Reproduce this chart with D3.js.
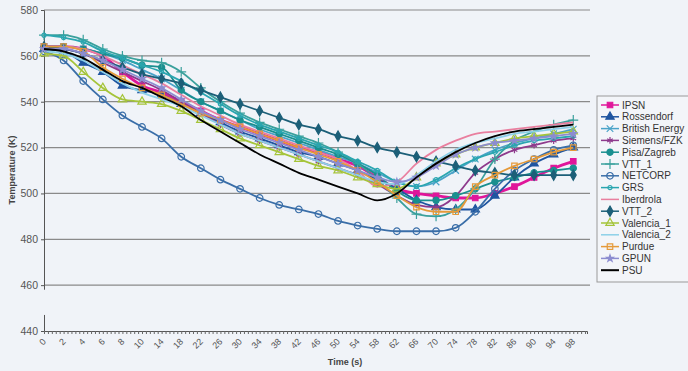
<!DOCTYPE html>
<html>
<head>
<meta charset="utf-8">
<script src="https://cdn.jsdelivr.net/npm/d3@7"></script>
<style>
  body { margin: 0; background: #f0f3f8; }
  svg { display: block; font-family: "Liberation Sans", Arial, sans-serif; }
</style>
</head>
<body>
<script>
// time labels on the category axis
var timeLabels = [0, 2, 4, 6, 8, 10, 14, 18, 22, 26, 30, 34, 38, 42, 46, 50, 54, 58,
  62, 66, 70, 74, 78, 82, 86, 90, 94, 98];
var yTicks = [440, 460, 480, 500, 520, 540, 560, 580];

var seriesNames = ['IPSN', 'Rossendorf', 'British Energy', 'Siemens/FZK', 'Pisa/Zagreb', 'VTT_1',
  'NETCORP', 'GRS', 'Iberdrola', 'VTT_2', 'Valencia_1', 'Valencia_2', 'Purdue', 'GPUN', 'PSU'];

// temperature (K) at each time label
var ipsn = [564, 564, 563, 560, 553, 547, 544, 540, 536, 532, 529, 526, 523, 520, 518, 515, 512, 507,
  502, 500, 499, 498, 498, 500, 503, 507, 511, 514];
var rossendorf = [563, 562, 557, 553, 547, 545, 543, 539, 535, 531, 527, 524, 521, 518, 516, 513, 510, 506,
  502, 497, 494, 493, 493, 499, 507, 513, 517, 520];
var britishEnergy = [564, 564, 563, 561, 558, 554, 550, 545, 540, 536, 532, 528, 525, 522, 519, 516, 513, 509,
  505, 503, 505, 510, 515, 519, 522, 524, 526, 528];
var siemens = [564, 563, 561, 557, 553, 549, 545, 540, 535, 530, 526, 523, 520, 517, 514, 511, 508, 504,
  499, 495, 494, 499, 509, 515, 519, 521, 523, 524];
var pisaZagreb = [564, 564, 563, 561, 559, 556, 555, 545, 540, 536, 532, 529, 526, 523, 520, 517, 513, 508,
  501, 497, 497, 499, 502, 505, 507, 509, 510, 511];
var vtt1 = [569, 569, 567, 563, 560, 558, 557, 553, 546, 540, 535, 531, 528, 525, 522, 518, 513, 506,
  498, 491, 490, 493, 502, 515, 523, 527, 530, 532];
var netcorp = [562, 558, 549, 541, 534, 529, 524, 516, 511, 506, 502, 498, 495, 493, 491, 488, 486, 484.5,
  483.5, 483.5, 483.5, 485, 492, 502, 510, 515, 519, 521];
var grs = [569, 568, 566, 562, 559, 556, 553, 549, 544, 539, 534, 530, 527, 524, 521, 518, 514, 510,
  505, 503, 506, 511, 515, 518, 521, 523, 524, 525];
var iberdrola = [564, 564, 563, 560, 556, 552, 548, 543, 538, 534, 530, 527, 524, 521, 518, 515, 510, 503,
  505, 513, 519, 523, 526, 527, 528, 529, 530, 531];
var vtt2 = [564, 563, 561, 558, 555, 552, 550, 548, 545, 542, 539, 536, 533, 530, 528, 525, 523, 520,
  518, 516, 514, 512, 510, 509, 508, 508, 508, 508];
var valencia1 = [561, 560, 553, 546, 541, 540, 539, 536, 532, 528, 524, 521, 518, 515, 512, 510, 507, 504,
  502, 507, 513, 517, 520, 522, 524, 525, 526, 527];
var valencia2 = [562, 561, 558, 553, 548, 544, 541, 538, 534, 530, 526, 523, 520, 517, 514, 511, 508, 505,
  504, 508, 514, 519, 522, 524, 526, 527, 528, 529];
var purdue = [564, 564, 562, 555, 550, 546, 543, 539, 535, 532, 529, 526, 523, 520, 517, 514, 510, 505,
  499, 494, 492, 492, 503, 508, 512, 515, 518, 520];
var gpun = [563, 563, 561, 558, 554, 550, 546, 541, 536, 532, 528, 525, 522, 519, 516, 513, 510, 507,
  505, 507, 512, 517, 520, 522, 523, 524, 525, 526];
var psu = [563, 562, 559, 554, 549, 546, 542, 538, 532, 527, 522, 517, 513, 509, 506, 503, 500, 497,
  500, 507, 513, 518, 522, 525, 527, 528, 529, 530];

var seriesValues = [ipsn, rossendorf, britishEnergy, siemens, pisaZagreb, vtt1, netcorp, grs,
  iberdrola, vtt2, valencia1, valencia2, purdue, gpun, psu];

// look of each series, same order as seriesNames
var styles = [
  { color: '#e0169a', symbol: d3.symbolSquare, size: 30, filled: true },
  { color: '#1f55a0', symbol: d3.symbolTriangle, size: 30, filled: true },
  { color: '#4aa3c8', symbol: d3.symbolTimes, size: 30, filled: false },
  { color: '#8e3a8c', symbol: d3.symbolAsterisk, size: 30, filled: false },
  { color: '#1a8f8f', symbol: d3.symbolCircle, size: 30, filled: true },
  { color: '#3aa09c', symbol: d3.symbolPlus, size: 34, filled: false },
  { color: '#3a6ea8', symbol: d3.symbolCircle, size: 34, filled: false },
  { color: '#2aa6b0', symbol: d3.symbolCircle, size: 14, filled: false },
  { color: '#e97f9f', symbol: null },
  { color: '#1c5f78', symbol: d3.symbolDiamond, size: 30, filled: true },
  { color: '#a5c43a', symbol: d3.symbolTriangle, size: 30, filled: false },
  { color: '#8dd0e8', symbol: null },
  { color: '#e59a3a', symbol: d3.symbolSquare, size: 30, filled: false },
  { color: '#8c8cd0', symbol: d3.symbolStar, size: 14, filled: true },
  { color: '#000000', symbol: null }
];

var width = 688, height = 371;
var svg = d3.select("body").append("svg")
  .attr("width", width)
  .attr("height", height);

svg.append("rect").attr("width", width).attr("height", height).attr("fill", "#f0f3f8");

// category index -> x
var x = d3.scaleLinear().domain([0, 27.7]).range([44, 587]);
var y = d3.scaleLinear().domain([440, 580]).range([331, 10]);

// gridlines
svg.append("g")
  .selectAll("line").data(yTicks.filter(d => d > 440))
  .enter().append("line")
  .attr("x1", 44).attr("x2", 590)
  .attr("y1", d => y(d)).attr("y2", d => y(d))
  .attr("stroke", "#8a8a8a")
  .attr("stroke-width", 1.2);

// y axis
var yAxis = svg.append("g")
  .attr("transform", "translate(44,0)")
  .call(d3.axisLeft(y).tickValues(yTicks).tickSize(3).tickPadding(3));
yAxis.select(".domain").attr("stroke", "#555");
yAxis.selectAll(".tick line").attr("stroke", "#555");
yAxis.selectAll("text").attr("fill", "#555").attr("font-size", 10.5);

// the scan loses a strip of the y axis below 460
svg.append("rect")
  .attr("x", 40).attr("y", y(458)).attr("width", 8).attr("height", y(447) - y(458))
  .attr("fill", "#f0f3f8");

svg.append("text")
  .attr("transform", "translate(15,170) rotate(-90)")
  .attr("text-anchor", "middle")
  .attr("font-size", 9)
  .attr("font-weight", "bold")
  .attr("fill", "#444")
  .text("Temperature (K)");

// x axis: minor ticks at every category
var xMinor = svg.append("g")
  .attr("transform", "translate(0," + y(440) + ")")
  .call(d3.axisBottom(x).tickValues(d3.range(0, 27.7, 0.2)).tickSize(3).tickFormat(""));
xMinor.select(".domain").attr("stroke", "#555");
xMinor.selectAll(".tick line").attr("stroke", "#666");

var xLab = svg.append("g")
  .attr("transform", "translate(0," + y(440) + ")")
  .call(d3.axisBottom(x).tickValues(d3.range(timeLabels.length)).tickSize(0)
    .tickFormat(i => timeLabels[i]));
xLab.select(".domain").remove();
xLab.selectAll("text")
  .attr("font-size", 9)
  .attr("fill", "#555")
  .attr("text-anchor", "end")
  .attr("dy", 0)
  .attr("transform", "translate(0,9) rotate(-45)");

svg.append("text")
  .attr("x", 345).attr("y", 365)
  .attr("text-anchor", "middle")
  .attr("font-size", 9)
  .attr("font-weight", "bold")
  .attr("fill", "#444")
  .text("Time (s)");

// series
var line = d3.line()
  .x((d, i) => x(i))
  .y(d => y(d))
  .curve(d3.curveMonotoneX);

var plot = svg.append("g");
seriesValues.forEach(function (vals, s) {
  var st = styles[s];
  var g = plot.append("g");
  g.append("path")
    .attr("d", line(vals))
    .attr("fill", "none")
    .attr("stroke", st.color)
    .attr("stroke-width", s === 0 ? 2.8 : 1.8);
  if (st.symbol) {
    g.selectAll("path.m").data(vals)
      .enter().append("path")
      .attr("class", "m")
      .attr("d", d3.symbol().type(st.symbol).size(st.size))
      .attr("transform", (d, i) => "translate(" + x(i) + "," + y(d) + ")")
      .attr("fill", st.filled ? st.color : "none")
      .attr("stroke", st.color)
      .attr("stroke-width", 1.2);
  }
});

// legend
var leg = svg.append("g").attr("transform", "translate(597,96)");
leg.append("rect")
  .attr("width", 100).attr("height", 186)
  .attr("fill", "#f3f5f9")
  .attr("stroke", "#999");
seriesNames.forEach(function (name, s) {
  var st = styles[s];
  var ly = 9 + s * 11.8;
  leg.append("line")
    .attr("x1", 4).attr("x2", 22).attr("y1", ly).attr("y2", ly)
    .attr("stroke", st.color).attr("stroke-width", s === 14 ? 2 : 1.5);
  if (st.symbol) {
    leg.append("path")
      .attr("d", d3.symbol().type(st.symbol).size(st.size))
      .attr("transform", "translate(13," + ly + ")")
      .attr("fill", st.filled ? st.color : "none")
      .attr("stroke", st.color)
      .attr("stroke-width", 1.2);
  }
  leg.append("text")
    .attr("x", 25).attr("y", ly + 3.5)
    .attr("font-size", 10)
    .attr("fill", "#333")
    .text(name);
});
</script>
</body>
</html>
